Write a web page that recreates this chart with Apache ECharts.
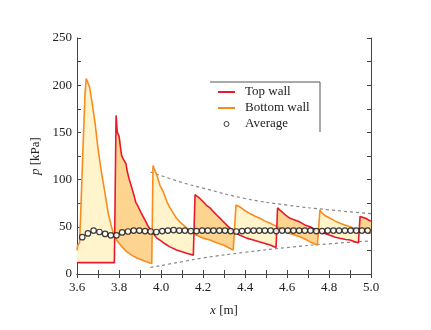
<!DOCTYPE html>
<html>
<head>
<meta charset="utf-8">
<script src="https://cdn.jsdelivr.net/npm/echarts@6/dist/echarts.min.js"></script>
<style>
  html, body { margin: 0; padding: 0; background: #fff; }
  #chart { width: 431px; height: 330px; }
</style>
</head>
<body>
<div id="chart"></div>
<script>
// Top wall pressure [x (m), p (kPa)]
const topWall = [
  [3.600, 12], [3.700, 12], [3.778, 12], [3.786, 168], [3.792, 150], [3.800, 146],
  [3.806, 145], [3.812, 126], [3.820, 122], [3.833, 117], [3.840, 108], [3.849, 100],
  [3.860, 92], [3.873, 82], [3.880, 76], [3.892, 71], [3.905, 65], [3.924, 57],
  [3.940, 50], [3.963, 43], [3.980, 38], [4.000, 35], [4.019, 32], [4.040, 29],
  [4.074, 25.5], [4.100, 23.5], [4.122, 22], [4.154, 20], [4.162, 84], [4.170, 82],
  [4.185, 80], [4.201, 76.5], [4.215, 73], [4.233, 70], [4.250, 66], [4.265, 62.5],
  [4.290, 57], [4.312, 52], [4.335, 47], [4.360, 43], [4.376, 41], [4.408, 38],
  [4.440, 36], [4.471, 34], [4.500, 32], [4.519, 30.7], [4.548, 28], [4.555, 70],
  [4.565, 68], [4.575, 66], [4.595, 62], [4.614, 59], [4.640, 57], [4.662, 55],
  [4.685, 52], [4.710, 50], [4.735, 47], [4.757, 45], [4.780, 43], [4.805, 41],
  [4.830, 39], [4.852, 37.8], [4.880, 36.5], [4.900, 36], [4.920, 34.5], [4.940, 33],
  [4.948, 61], [4.960, 60], [4.975, 59], [4.990, 57], [5.000, 56]
];

// Bottom wall pressure [x (m), p (kPa)]
const bottomWall = [
  [3.600, 25], [3.603, 30], [3.612, 33], [3.617, 60], [3.628, 130], [3.638, 190],
  [3.644, 207], [3.650, 206], [3.660, 198], [3.670, 184], [3.686, 160], [3.701, 131],
  [3.717, 107], [3.733, 86], [3.749, 64], [3.762, 52], [3.773, 43], [3.780, 39],
  [3.795, 34], [3.813, 29], [3.835, 24], [3.860, 20], [3.885, 17], [3.908, 15],
  [3.930, 13], [3.956, 11], [3.962, 115], [3.970, 110], [3.980, 105], [3.995, 94],
  [4.011, 87], [4.027, 77], [4.043, 70], [4.060, 64], [4.074, 59], [4.090, 55],
  [4.106, 52], [4.125, 48], [4.146, 45], [4.170, 41], [4.200, 38], [4.233, 36],
  [4.265, 33], [4.297, 30.7], [4.320, 28], [4.344, 25.4], [4.357, 73], [4.365, 72],
  [4.376, 71], [4.400, 67], [4.424, 64], [4.450, 61], [4.471, 59], [4.495, 56],
  [4.519, 53.7], [4.545, 51], [4.567, 48.4], [4.590, 46], [4.614, 43], [4.640, 41],
  [4.662, 39.5], [4.685, 37], [4.710, 34], [4.730, 32], [4.745, 30.7], [4.757, 68],
  [4.765, 65], [4.780, 62], [4.805, 59], [4.830, 56], [4.852, 53.7], [4.875, 52],
  [4.900, 50], [4.925, 48], [4.945, 46.6], [4.970, 45], [5.000, 43]
];

// Average of both walls
const avgX = [
  3.625, 3.652, 3.679, 3.707, 3.734, 3.761, 3.788, 3.815, 3.843, 3.870, 3.897, 3.924, 3.951,
  3.978, 4.006, 4.033, 4.060, 4.087, 4.114, 4.142, 4.169, 4.196, 4.223, 4.250, 4.278, 4.305,
  4.332, 4.359, 4.386, 4.413, 4.441, 4.468, 4.495, 4.522, 4.549, 4.577, 4.604, 4.631, 4.658,
  4.685, 4.712, 4.740, 4.767, 4.794, 4.821, 4.848, 4.876, 4.903, 4.930, 4.957, 4.984
];
const avgP = [
  39, 43, 46, 44.5, 42.5, 41, 41, 44, 45, 46, 46, 45.5, 45,
  44.5, 45.5, 46, 46.5, 46, 46, 45.5, 45.5, 46, 46, 46, 46, 46,
  45.5, 45, 45.5, 46, 46, 46, 46, 46, 45.5, 46, 46, 46, 46,
  46, 46, 45.5, 45.5, 46, 46, 46, 46, 46, 46, 46, 46
];

// Dashed envelopes
const upperEnv = [[3.95, 108], [4.1, 97], [4.2, 91], [4.4, 80], [4.6, 73], [4.8, 68], [5.0, 64]];
const lowerEnv = [[3.95, 7], [4.1, 13], [4.2, 17], [4.4, 23], [4.6, 28], [4.8, 32], [5.0, 35]];

const serif = "'Liberation Serif', 'Times New Roman', Times, serif";
const txt = '#222';
const axisCol = '#444';
const RED = '#e8192c';
const ORANGE = '#f98c1f';
const FILL_LIGHT = '#fff4cb';
const FILL_DARK = '#fdd590';
const LINE_ICON = 'path://M0 0H17V2H0Z';

function interp(pts, x) {
  if (x <= pts[0][0]) return pts[0][1];
  for (let i = 1; i < pts.length; i++) {
    if (x <= pts[i][0]) {
      const [x0, y0] = pts[i - 1], [x1, y1] = pts[i];
      return x1 === x0 ? y1 : y0 + (y1 - y0) * (x - x0) / (x1 - x0);
    }
  }
  return pts[pts.length - 1][1];
}

// split the band between the two walls into runs where one wall stays above the other
function fillRuns() {
  const xs = Array.from(new Set(topWall.concat(bottomWall).map(p => p[0]))).sort((a, b) => a - b);
  const runs = [];
  let cur = null, prev = null;
  xs.forEach(x => {
    const r = interp(topWall, x), o = interp(bottomWall, x);
    const up = r >= o;
    if (cur && up !== cur.up) {
      const d0 = prev.r - prev.o, d1 = r - o;
      const t = d0 / (d0 - d1);
      const cx = prev.x + t * (x - prev.x), cy = prev.r + t * (r - prev.r);
      cur.pts.push([cx, cy, cy]);
      runs.push(cur);
      cur = { up, pts: [[cx, cy, cy]] };
    }
    if (!cur) cur = { up, pts: [] };
    cur.pts.push([x, r, o]);
    prev = { x, r, o };
  });
  runs.push(cur);
  return runs;
}
const runs = fillRuns();

const tickStyle = { show: true, inside: true, length: 4, lineStyle: { color: axisCol } };
const minorStyle = { show: true, splitNumber: 2, length: 4, lineStyle: { color: axisCol } };
const labelStyle = { fontFamily: serif, fontSize: 13, color: txt };
const nameStyle = {
  fontFamily: serif, fontSize: 13, color: txt,
  rich: { i: { fontFamily: serif, fontSize: 13, color: txt, fontStyle: 'italic' } }
};

const chart = echarts.init(document.getElementById('chart'));
chart.setOption({
  animation: false,
  grid: { left: 77, right: 60, top: 38, bottom: 56 },
  xAxis: [
    {
      type: 'value', min: 3.6, max: 5.0, interval: 0.2, position: 'bottom',
      axisLine: { lineStyle: { color: axisCol } },
      axisTick: tickStyle, minorTick: minorStyle, splitLine: { show: false },
      axisLabel: { ...labelStyle, margin: 7, formatter: v => v.toFixed(1) },
      name: '{i|x} [m]', nameLocation: 'middle', nameGap: 30, nameTextStyle: nameStyle
    },
    {
      type: 'value', min: 3.6, max: 5.0, interval: 0.2, position: 'top',
      axisLine: { lineStyle: { color: axisCol } },
      axisTick: tickStyle, minorTick: minorStyle, splitLine: { show: false },
      axisLabel: { show: false }
    }
  ],
  yAxis: [
    {
      type: 'value', min: 0, max: 250, interval: 50, position: 'left',
      axisLine: { show: true, lineStyle: { color: axisCol } },
      axisTick: tickStyle, minorTick: minorStyle, splitLine: { show: false },
      axisLabel: { ...labelStyle, margin: 5 },
      name: '{i|p} [kPa]', nameLocation: 'middle', nameRotate: 90, nameGap: 35, nameTextStyle: nameStyle
    },
    {
      type: 'value', min: 0, max: 250, interval: 50, position: 'right',
      axisLine: { show: true, lineStyle: { color: axisCol } },
      axisTick: tickStyle, minorTick: minorStyle, splitLine: { show: false },
      axisLabel: { show: false }
    }
  ],
  legend: {
    orient: 'vertical', left: 218, top: 85, padding: 0,
    itemWidth: 17, itemHeight: 5, itemGap: 2,
    textStyle: { fontFamily: serif, fontSize: 13, color: txt, lineHeight: 14, padding: [0, 0, 0, 5] },
    data: [
      { name: 'Top wall', icon: LINE_ICON, itemStyle: { color: RED } },
      { name: 'Bottom wall', icon: LINE_ICON, itemStyle: { color: ORANGE } },
      { name: 'Average', icon: 'circle', itemStyle: { color: '#fff', borderColor: '#111', borderWidth: 1 } }
    ]
  },
  graphic: [
    { type: 'line', shape: { x1: 210, y1: 82, x2: 320, y2: 82 }, style: { stroke: '#555', lineWidth: 1 } },
    { type: 'line', shape: { x1: 320, y1: 82, x2: 320, y2: 132 }, style: { stroke: '#555', lineWidth: 1 } }
  ],
  series: [
    {
      type: 'custom', silent: true, z: 1,
      data: [[3.6, 0]], encode: { x: 0, y: 1 },
      renderItem: (params, api) => ({
        type: 'group',
        children: runs.map(run => ({
          type: 'polygon',
          shape: {
            points: run.pts.map(p => api.coord([p[0], p[1]]))
              .concat(run.pts.slice().reverse().map(p => api.coord([p[0], p[2]])))
          },
          style: { fill: run.up ? FILL_DARK : FILL_LIGHT, stroke: 'none' }
        }))
      })
    },
    {
      type: 'line', data: upperEnv, smooth: true, symbol: 'none', silent: true, z: 2,
      lineStyle: { color: '#888', width: 1.2, type: [3, 3] }
    },
    {
      type: 'line', data: lowerEnv, smooth: true, symbol: 'none', silent: true, z: 2,
      lineStyle: { color: '#888', width: 1.2, type: [3, 3] }
    },
    {
      name: 'Bottom wall', type: 'line', data: bottomWall, symbol: 'none', z: 3,
      color: ORANGE, lineStyle: { color: ORANGE, width: 1.6 }
    },
    {
      name: 'Top wall', type: 'line', data: topWall, symbol: 'none', z: 4,
      color: RED, lineStyle: { color: RED, width: 1.6 }
    },
    {
      name: 'Average', type: 'scatter', z: 5,
      data: avgX.map((x, i) => [x, avgP[i]]),
      symbol: 'circle', symbolSize: 5.5,
      itemStyle: { color: '#fff', borderColor: '#111', borderWidth: 1.2 }
    }
  ]
});
</script>
</body>
</html>
